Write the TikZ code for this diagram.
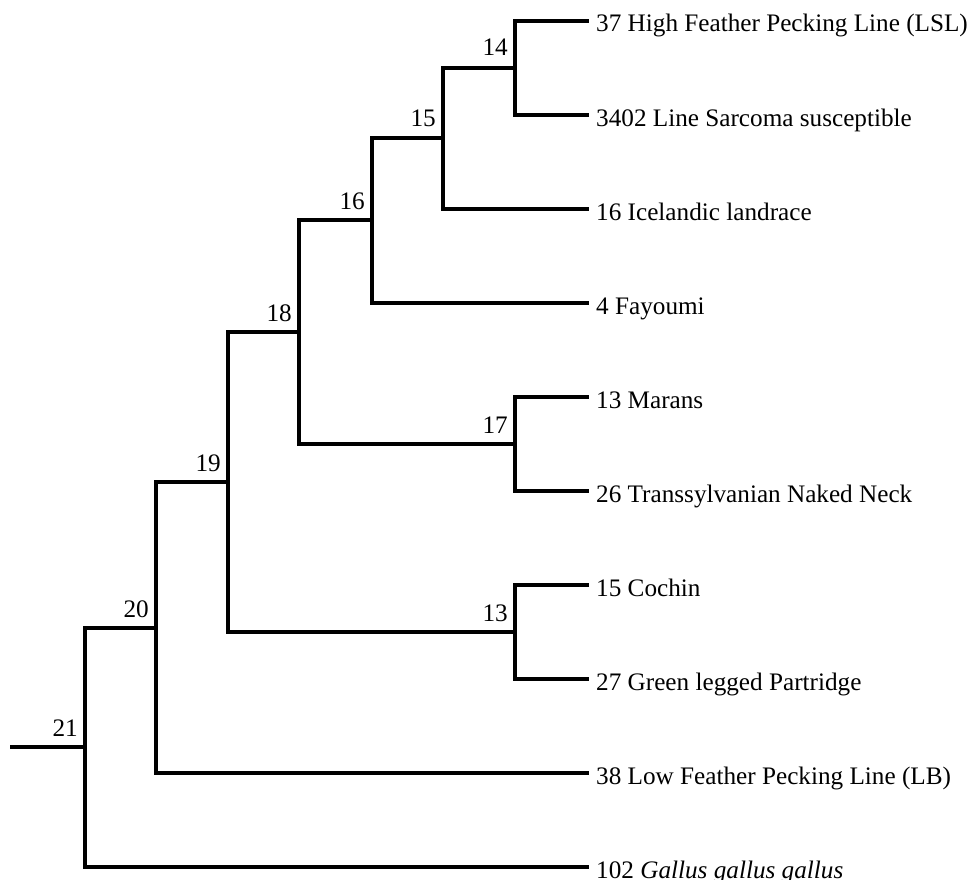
\documentclass[tikz,border=0pt]{standalone}
\usepackage{fontspec}
\setmainfont{Liberation Serif}
\begin{document}
\begin{tikzpicture}[x=1pt,y=-1pt,
  branch/.style={line width=3.2pt,line cap=rect},
  leaflab/.style={anchor=base west,inner sep=0pt,font=\fontsize{25.2}{30}\selectfont},
  intlab/.style={anchor=base east,inner sep=0pt,font=\fontsize{25.2}{30}\selectfont}]
\useasboundingbox (0,0) rectangle (979,880);
% internal nodes
\coordinate (n14) at (515,68);
\coordinate (n15) at (443,138);
\coordinate (n16) at (372,220);
\coordinate (n18) at (299,332);
\coordinate (n17) at (515,444);
\coordinate (n13) at (515,632);
\coordinate (n19) at (228,482);
\coordinate (n20) at (156,628);
\coordinate (n21) at (85,747);
\coordinate (root) at (12,747);
% leaf ends
\coordinate (l37) at (587,21);
\coordinate (l3402) at (587,115);
\coordinate (l16) at (587,209);
\coordinate (l4) at (587,303);
\coordinate (l13) at (587,397);
\coordinate (l26) at (587,491);
\coordinate (l15) at (587,585);
\coordinate (l27) at (587,679);
\coordinate (l38) at (587,773);
\coordinate (l102) at (587,867);
% branches
\draw[branch] (n14) |- (l37);
\draw[branch] (n14) |- (l3402);
\draw[branch] (n15) |- (n14);
\draw[branch] (n15) |- (l16);
\draw[branch] (n16) |- (n15);
\draw[branch] (n16) |- (l4);
\draw[branch] (n17) |- (l13);
\draw[branch] (n17) |- (l26);
\draw[branch] (n18) |- (n16);
\draw[branch] (n18) |- (n17);
\draw[branch] (n13) |- (l15);
\draw[branch] (n13) |- (l27);
\draw[branch] (n19) |- (n18);
\draw[branch] (n19) |- (n13);
\draw[branch] (n20) |- (n19);
\draw[branch] (n20) |- (l38);
\draw[branch] (n21) |- (n20);
\draw[branch] (n21) |- (l102);
\draw[branch] (root) -- (n21);
% internal labels
\node[intlab] (t14) at ([xshift=-7pt,yshift=12pt]n14) {14};
\node[intlab] (t15) at ([xshift=-7pt,yshift=11pt]n15) {15};
\node[intlab] (t16) at ([xshift=-7pt,yshift=11pt]n16) {16};
\node[intlab] (t18) at ([xshift=-7pt,yshift=11pt]n18) {18};
\node[intlab] (t17) at ([xshift=-7pt,yshift=11pt]n17) {17};
\node[intlab] (t13) at ([xshift=-7pt,yshift=11pt]n13) {13};
\node[intlab] (t19) at ([xshift=-7pt,yshift=11pt]n19) {19};
\node[intlab] (t20) at ([xshift=-7pt,yshift=11pt]n20) {20};
\node[intlab] (t21) at ([xshift=-7pt,yshift=11pt]n21) {21};
% leaf labels
\node[leaflab] (s37) at ([xshift=9pt,yshift=-11pt]l37) {37 High Feather Pecking Line (LSL)};
\node[leaflab] (s3402) at ([xshift=9pt,yshift=-11pt]l3402) {3402 Line Sarcoma susceptible};
\node[leaflab] (s16) at ([xshift=9pt,yshift=-11pt]l16) {16 Icelandic landrace};
\node[leaflab] (s4) at ([xshift=9pt,yshift=-11pt]l4) {4 Fayoumi};
\node[leaflab] (s13) at ([xshift=9pt,yshift=-11pt]l13) {13 Marans};
\node[leaflab] (s26) at ([xshift=9pt,yshift=-11pt]l26) {26 Transsylvanian Naked Neck};
\node[leaflab] (s15) at ([xshift=9pt,yshift=-11pt]l15) {15 Cochin};
\node[leaflab] (s27) at ([xshift=9pt,yshift=-11pt]l27) {27 Green legged Partridge};
\node[leaflab] (s38) at ([xshift=9pt,yshift=-11pt]l38) {38 Low Feather Pecking Line (LB)};
\node[leaflab] (s102) at ([xshift=9pt,yshift=-11pt]l102) {102 \textit{Gallus gallus gallus}};
\end{tikzpicture}
\end{document}
